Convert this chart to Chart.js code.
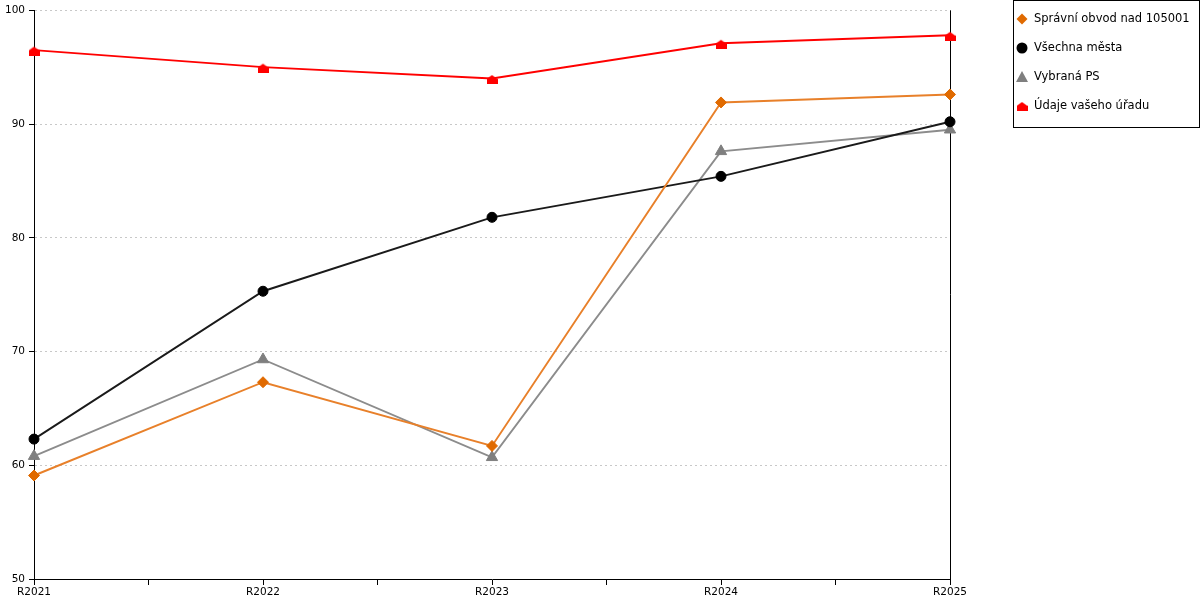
<!DOCTYPE html>
<html>
<head>
<meta charset="utf-8">
<script src="https://cdn.jsdelivr.net/npm/chart.js@4.4.1/dist/chart.umd.min.js"></script>
<style>
  html, body { margin: 0; padding: 0; background: #fff; }
  #wrap { width: 1200px; height: 600px; }
</style>
</head>
<body>
<div id="wrap"><canvas id="chart" width="1200" height="600"></canvas></div>
<script>
// data
const years = ['R2021', 'R2022', 'R2023', 'R2024', 'R2025'];
const spravniObvod = [59.1, 67.3, 61.7, 91.9, 92.6];
const vsechnaMesta = [62.3, 75.3, 81.8, 85.4, 90.2];
const vybranaPS = [60.8, 69.3, 60.7, 87.6, 89.5];
const vasUrad = [96.5, 95.0, 94.0, 97.1, 97.8];
const yTicks = [50, 60, 70, 80, 90, 100];

// little house marker for "Údaje vašeho úřadu"
function makeHouse(color) {
    const c = document.createElement('canvas');
    c.width = 11;
    c.height = 11;
    const g = c.getContext('2d');
    g.fillStyle = color;
    g.beginPath();
    g.moveTo(5.5, 2);
    g.lineTo(11, 6);
    g.lineTo(11, 11);
    g.lineTo(0, 11);
    g.lineTo(0, 6);
    g.closePath();
    g.fill();
    return c;
}
const house = makeHouse('#ff0000');

const toPoints = arr => arr.map((v, i) => ({ x: i, y: v }));

const series = [
    { label: 'Správní obvod nad 105001', data: spravniObvod, line: '#e8802a', mark: '#e06a00', style: 'rectRot', r: 5.5 },
    { label: 'Všechna města', data: vsechnaMesta, line: '#1a1a1a', mark: '#000000', style: 'circle', r: 5 },
    { label: 'Vybraná PS', data: vybranaPS, line: '#8c8c8c', mark: '#7f7f7f', style: 'triangle', r: 6.5 },
    { label: 'Údaje vašeho úřadu', data: vasUrad, line: '#ff0000', mark: '#ff0000', style: house, r: 5 }
];

// right frame line
const rightBorder = {
    id: 'rightBorder',
    beforeDatasetsDraw(chart) {
        const { ctx, chartArea } = chart;
        ctx.save();
        ctx.strokeStyle = '#000';
        ctx.lineWidth = 1;
        ctx.beginPath();
        ctx.moveTo(Math.round(chartArea.right) + 0.5, chartArea.top);
        ctx.lineTo(Math.round(chartArea.right) + 0.5, chartArea.bottom);
        ctx.stroke();
        ctx.restore();
    }
};

// boxed legend on the right
const boxLegend = {
    id: 'boxLegend',
    afterDraw(chart) {
        const ctx = chart.ctx;
        ctx.save();
        ctx.strokeStyle = '#000';
        ctx.lineWidth = 1;
        ctx.strokeRect(1013.5, 0.5, 186, 127);
        ctx.font = '11.5px "DejaVu Sans"';
        ctx.textBaseline = 'middle';
        ctx.textAlign = 'left';
        series.forEach((s, i) => {
            const x = 1022;
            const y = 19 + i * 29;
            ctx.fillStyle = s.mark;
            if (s.style === 'rectRot') {
                ctx.beginPath();
                ctx.moveTo(x, y - 5.5); ctx.lineTo(x + 5.5, y); ctx.lineTo(x, y + 5.5); ctx.lineTo(x - 5.5, y);
                ctx.closePath();
                ctx.fill();
            } else if (s.style === 'circle') {
                ctx.beginPath();
                ctx.arc(x, y, 5.5, 0, Math.PI * 2);
                ctx.fill();
            } else if (s.style === 'triangle') {
                ctx.beginPath();
                ctx.moveTo(x, y - 6); ctx.lineTo(x + 6, y + 5); ctx.lineTo(x - 6, y + 5);
                ctx.closePath();
                ctx.fill();
            } else {
                ctx.drawImage(s.style, x - 5.5, y - 6);
            }
            ctx.fillStyle = '#000';
            ctx.fillText(s.label, 1034, y);
        });
        ctx.restore();
    }
};

const ctx = document.getElementById('chart').getContext('2d');
const chart = new Chart(ctx, {
    type: 'line',
    data: {
        datasets: series.map(s => ({
            label: s.label,
            data: toPoints(s.data),
            borderColor: s.line,
            borderWidth: 1.9,
            backgroundColor: s.mark,
            pointBackgroundColor: s.mark,
            pointBorderColor: s.mark,
            pointBorderWidth: 1,
            pointStyle: s.style,
            pointRadius: s.r,
            pointHoverRadius: s.r,
            tension: 0,
            fill: false,
            clip: false
        }))
    },
    options: {
        responsive: false,
        animation: false,
        layout: { padding: { left: 0, top: 10, right: 250, bottom: 0 } },
        plugins: {
            legend: { display: false },
            tooltip: { enabled: false }
        },
        scales: {
            x: {
                type: 'linear',
                min: 0,
                max: years.length - 1,
                afterBuildTicks: axis => {
                    const t = [];
                    for (let v = 0; v <= years.length - 1; v += 0.5) t.push({ value: v });
                    axis.ticks = t;
                },
                afterFit: axis => { axis.height = 21; },
                ticks: {
                    autoSkip: false,
                    maxRotation: 0,
                    padding: 1,
                    color: '#000',
                    font: { family: 'DejaVu Sans', size: 10.5 },
                    callback: v => (Number.isInteger(v) ? years[v] : '')
                },
                grid: { drawOnChartArea: false, tickLength: 6, tickColor: '#000' },
                border: { color: '#000', width: 1 }
            },
            y: {
                min: 50,
                max: 100,
                afterBuildTicks: axis => { axis.ticks = yTicks.map(v => ({ value: v })); },
                afterFit: axis => { axis.width = 34; },
                ticks: {
                    padding: 4,
                    color: '#000',
                    font: { family: 'DejaVu Sans', size: 10.5 }
                },
                grid: { color: '#c8c8c8', tickLength: 5, tickColor: '#000', tickBorderDash: [] },
                border: { color: '#000', width: 1, dash: [2, 3] }
            }
        }
    },
    plugins: [rightBorder, boxLegend]
});
</script>
</body>
</html>
